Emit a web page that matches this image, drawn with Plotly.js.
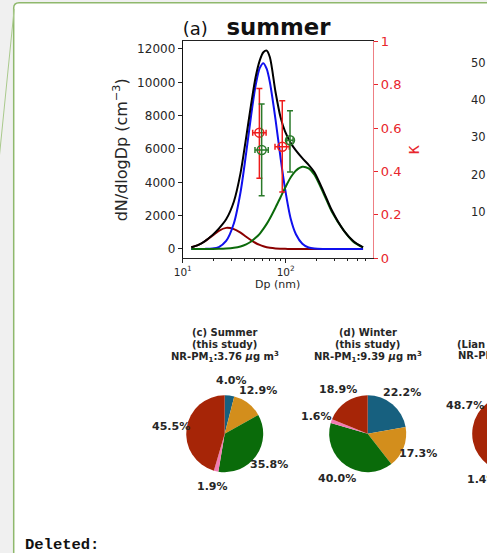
<!DOCTYPE html>
<html><head><meta charset="utf-8">
<script src="https://cdn.plot.ly/plotly-3.0.1.min.js"></script>
<style>
html,body{margin:0;padding:0;overflow:hidden;background:#f0f0f0}
#wrap{width:487px;height:553px;overflow:hidden;position:relative}
#plot{width:640px;height:553px}
</style></head>
<body><div id="wrap"><div id="plot"></div></div>
<script>
// ---------- data ----------
// (a) summer particle number size distribution, Dp in nm, dN/dlogDp in cm^-3
const dp = [12.1,14.2,16.3,19.4,22.4,26.4,31.4,36.4,41.3,46.2,51.0,55.9,60.7,65.4,70.2,79.7,89.1,98.5,112,126,145,167,190,235,279,367,453,564];
const measuredPNSD   = [100,250,460,830,1220,1780,2850,4550,6700,8700,10300,11300,11800,11900,11500,9400,7900,7050,6350,5900,5450,5050,4600,3400,2350,1100,480,90];
const nucleationMode = [99,243,450,800,1090,1265,1190,975,730,525,358,242,161,108,71,31,14,6,2,0,0,0,0,0,0,0,0,0];
const aitkenMode     = [0,0,4,27,116,480,1540,3400,5760,8030,9800,10850,11150,10800,10000,7750,5470,3620,1800,870,315,86,23,2,0,0,0,0];
const accumMode      = [0,0,0,3,9,27,72,152,277,450,667,910,1205,1505,1830,2490,3105,3655,4300,4710,4930,4830,4460,3285,2267,1100,440,90];

// hygroscopicity kappa (right axis) with error ranges
const kappaRedDp    = [55.5, 92.6];
const kappaRedDpLo  = [47.8, 78.7];
const kappaRedDpHi  = [64.5, 108.4];
const kappaRed      = [0.579, 0.514];
const kappaRedLo    = [0.369, 0.305];
const kappaRedHi    = [0.783, 0.726];
const kappaGreenDp   = [58.4, 110.1];
const kappaGreenDpLo = [50.3, 102.2];
const kappaGreenDpHi = [67.7, 117.9];
const kappaGreen     = [0.499, 0.544];
const kappaGreenLo   = [0.288, 0.398];
const kappaGreenHi   = [0.711, 0.680];

// tick labels
const xTickVals = [10, 100];
const xTickText = ['10<sup>1</sup>', '10<sup>2</sup>'];
const xMinorVals = [20,30,40,50,60,70,80,90,200,300,400,500,600];
const yTickVals = [0,2000,4000,6000,8000,10000,12000];
const kTickVals = [0,0.2,0.4,0.6,0.8,1];
const bTickVals = [10,20,30,40,50];   // cropped panel (b) axis

// pies: NR-PM1 composition (%)
const species = ['NO3','NH4','Org','Chl','SO4'];
const speciesColors = ['#17607f','#d38e1c','#0a6b0a','#f27bb2','#a62507'];
const summerPct = [4.0, 12.9, 35.8, 1.9, 45.5];
const winterPct = [22.2, 17.3, 40.0, 1.6, 18.9];
const lianSO4 = 48.7, lianChl = 1.4;   // panel (e), mostly cropped
const lianSpecies = ['other (cropped)','Chl','SO4'];
const lianValues = [+(100 - lianSO4 - lianChl).toFixed(1), lianChl, lianSO4];
const lianColors = ['#0a6b0a','#f27bb2','#a62507'];

// ---------- layout helpers (pixel -> paper) ----------
const W = 640, H = 553;
const PX = x => x / W;
const PY = y => 1 - y / H;
const FONT = 'DejaVu Sans';
const TXT = '#262626';
const RED = '#e8262c';
const PIE_R = 38.5;
const PIE_Y = 433.7;
const pieCX = {c:224.7, d:367.7, e:510.7};
const rotE = 29.6;

const lineTrace = (y, color) => ({
  type:'scatter', mode:'lines', x:dp, y:y, xaxis:'x', yaxis:'y',
  line:{color:color, width:2, shape:'spline', smoothing:0.8},
  hoverinfo:'skip', showlegend:false
});
const kTrace = (x, xlo, xhi, y, ylo, yhi, color) => ({
  type:'scatter', mode:'markers', x:x, y:y, xaxis:'x', yaxis:'y2',
  marker:{symbol:'circle-open', size:9, color:color, line:{width:1.5, color:color}},
  error_y:{type:'data', symmetric:false, array:yhi.map((v,i)=>v-y[i]), arrayminus:y.map((v,i)=>v-ylo[i]), color:color, thickness:1.5, width:3},
  error_x:{type:'data', symmetric:false, array:xhi.map((v,i)=>v-x[i]), arrayminus:x.map((v,i)=>v-xlo[i]), color:color, thickness:1.5, width:3},
  hoverinfo:'skip', showlegend:false
});

function pieDomain(cx, cy, r){ return {x:[PX(cx-r), PX(cx+r)], y:[PY(cy+r), PY(cy-r)]}; }
const pieBase = {
  type:'pie', sort:false, direction:'clockwise', rotation:0,
  textinfo:'none', showlegend:false, hoverinfo:'skip'
};

const traces = [
  lineTrace(nucleationMode, '#8b0000'),
  lineTrace(aitkenMode, '#1010ee'),
  lineTrace(accumMode, '#0b6a0b'),
  lineTrace(measuredPNSD, '#000000'),
  kTrace(kappaRedDp, kappaRedDpLo, kappaRedDpHi, kappaRed, kappaRedLo, kappaRedHi, '#ee1c1c'),
  kTrace(kappaGreenDp, kappaGreenDpLo, kappaGreenDpHi, kappaGreen, kappaGreenLo, kappaGreenHi, '#2a7a2a'),
  {type:'scatter', x:[], y:[], xaxis:'x', yaxis:'y3', showlegend:false, hoverinfo:'skip'},
  Object.assign({}, pieBase, {values:summerPct, labels:species, marker:{colors:speciesColors, line:{width:0}},
    domain:pieDomain(pieCX.c, PIE_Y, PIE_R)}),
  Object.assign({}, pieBase, {values:winterPct, labels:species, marker:{colors:speciesColors, line:{width:0}},
    domain:pieDomain(pieCX.d, PIE_Y, PIE_R)}),
  Object.assign({}, pieBase, {values:lianValues, labels:lianSpecies, marker:{colors:lianColors, line:{width:0}},
    rotation:rotE, domain:pieDomain(pieCX.e, PIE_Y, PIE_R)})
];

const ann = (x, y, text, size, opts) => Object.assign({
  xref:'paper', yref:'paper', x:PX(x), y:PY(y), text:text, showarrow:false,
  xanchor:'center', yanchor:'middle', font:{family:FONT, size:size, color:TXT, weight:'bold'}
}, opts || {});

// percentage labels placed like matplotlib autopct (centred at 1.4 r on each wedge's mid-angle)
function pctLabels(values, cx, rotation, skip){
  const total = values.reduce((a,b)=>a+b, 0);
  let cum = 0; const out = [];
  values.forEach((v, i) => {
    const mid = (rotation + 360 * (cum + v / 2) / total) * Math.PI / 180;
    cum += v;
    if (skip && skip.indexOf(i) >= 0) return;
    out.push(ann(cx + 1.4 * PIE_R * Math.sin(mid), PIE_Y - 1.4 * PIE_R * Math.cos(mid), v.toFixed(1) + '%', 11));
  });
  return out;
}

const annotations = [
  ann(pieCX.c, 332.7, '(c) Summer', 10),
  ann(pieCX.c, 344.3, '(this study)', 10),
  ann(pieCX.c, 356.7, 'NR-PM<sub>1</sub>:3.76 <i>μ</i>g m<sup>3</sup>', 10),
  ann(pieCX.d, 332.7, '(d) Winter', 10),
  ann(pieCX.d, 344.3, '(this study)', 10),
  ann(pieCX.d, 356.7, 'NR-PM<sub>1</sub>:9.39 <i>μ</i>g m<sup>3</sup>', 10),
  ann(455, 344.3, '(Lian', 10, {xanchor:'left'}),
  ann(456, 356.7, 'NR-PM<sub>1</sub>', 10, {xanchor:'left'}),
  ann(22.7, 545, 'Deleted:', 15.5, {xanchor:'left', font:{family:'Liberation Mono', size:15.5, color:'#111', weight:'bold'}})
].concat(pctLabels(summerPct, pieCX.c, 0), pctLabels(winterPct, pieCX.d, 0), pctLabels(lianValues, pieCX.e, rotE, [0]));

const shapes = [
  {type:'path', xref:'paper', yref:'paper', layer:'below',
   path: 'M'+PX(13.7)+','+PY(570)+' L'+PX(13.7)+','+PY(8)+' Q'+PX(13.7)+','+PY(2.7)+' '+PX(19)+','+PY(2.7)+' L'+PX(700)+','+PY(2.7)+' L'+PX(700)+','+PY(570)+' Z',
   fillcolor:'#ffffff', line:{color:'#8fb86c', width:1.5}},
  {type:'line', xref:'paper', yref:'paper', layer:'below', x0:PX(14.2), y0:PY(9), x1:PX(-1), y1:PY(160),
   line:{color:'#a9c98c', width:1}}
];

const layout = {
  width:W, height:H, margin:{l:0,r:0,t:0,b:0},
  paper_bgcolor:'#f0f0f0', plot_bgcolor:'#ffffff',
  font:{family:FONT, color:TXT},
  title:{text:'<span style="font-size:18px">(a)\u00a0\u00a0</span>\u00a0<b>summer</b>', x:PX(182.7), xanchor:'left', xref:'paper',
         y:PY(27), yanchor:'middle', yref:'paper', font:{family:FONT, size:22.8, color:'#111'}},
  xaxis:{domain:[PX(182.7), PX(372.7)], type:'log', range:[0.9995, 2.845], anchor:'y',
         tickmode:'array', tickvals:xTickVals, ticktext:xTickText, ticks:'outside', ticklen:4, tickcolor:'#222',
         tickfont:{size:10.5, color:TXT}, showline:true, linecolor:'#222', linewidth:1, mirror:true,
         showgrid:false, zeroline:false,
         minor:{tickmode:'array', tickvals:xMinorVals, ticks:'outside', ticklen:2, tickcolor:'#222', showgrid:false},
         title:{text:'Dp (nm)', font:{size:11, color:TXT}, standoff:3}},
  yaxis:{domain:[PY(258.3), PY(41.3)], range:[-560, 12460], anchor:'x',
         tickmode:'array', tickvals:yTickVals, tickformat:'d', ticks:'outside', ticklen:4, tickcolor:'#222',
         tickfont:{size:12, color:TXT}, showline:true, linecolor:'#111', linewidth:1, showgrid:false, zeroline:false,
         title:{text:'dN/dlogDp (cm<sup>−3</sup>)', font:{size:16, color:TXT}, standoff:5}},
  yaxis2:{overlaying:'y', side:'right', anchor:'x', range:[0,1],
          tickmode:'array', tickvals:kTickVals, ticks:'outside', ticklen:4, tickcolor:RED,
          tickfont:{size:13, color:RED}, showline:true, linecolor:'#ee7f84', linewidth:1.5, showgrid:false, zeroline:false,
          title:{text:'κ', font:{size:17, color:RED}, standoff:6}},
  yaxis3:{overlaying:'y', anchor:'free', position:PX(492), side:'left', range:[-2.56, 55.9],
          tickmode:'array', tickvals:bTickVals, ticks:'outside', ticklen:4, tickcolor:'#222',
          tickfont:{size:11.5, color:TXT}, showline:true, linecolor:'#222', showgrid:false, zeroline:false},
  annotations:annotations, shapes:shapes, showlegend:false, hovermode:false
};

Plotly.newPlot('plot', traces, layout, {displayModeBar:false, staticPlot:true});
</script>
</body></html>
